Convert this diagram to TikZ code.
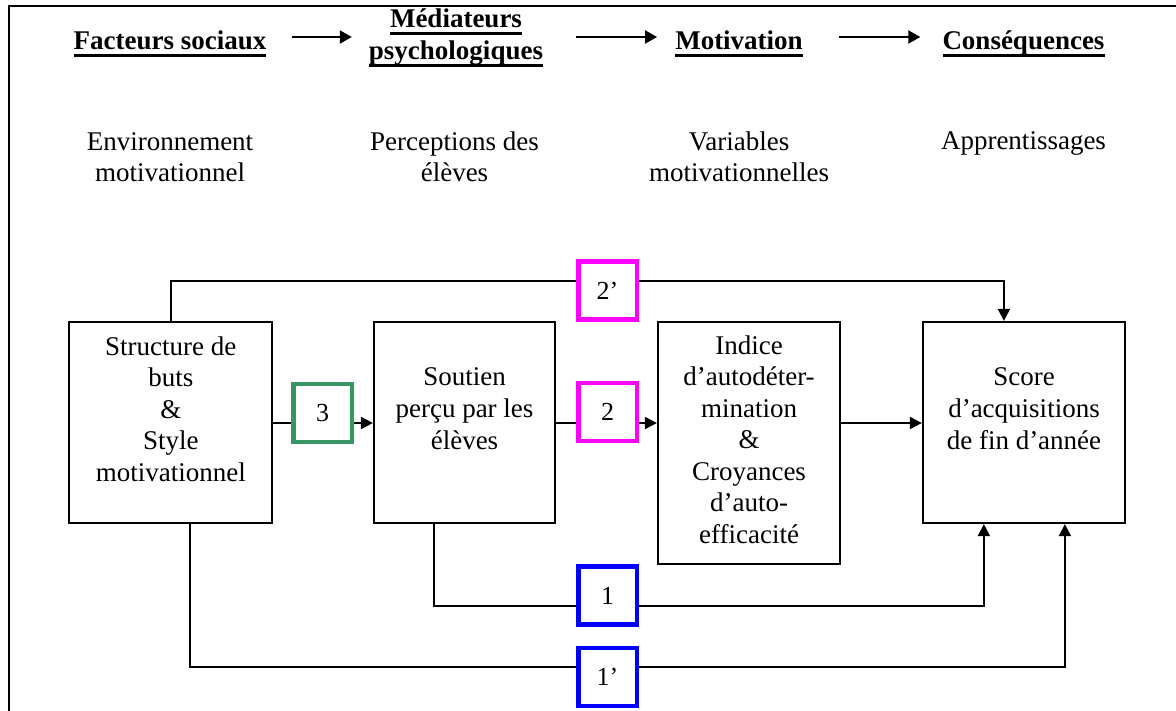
\documentclass[tikz,border=0pt]{standalone}
\usepackage{fontspec}
\setmainfont{Liberation Serif}
\usetikzlibrary{arrows.meta,calc}
\definecolor{grn}{RGB}{56,150,100}
\definecolor{mag}{RGB}{255,0,255}
\definecolor{blu}{RGB}{0,0,255}
\newcommand{\hdul}[1]{\leavevmode\setbox0=\hbox{#1}\rlap{\vrule width\wd0 height -4pt depth 7.5pt}\box0}
\begin{document}
\begin{tikzpicture}[x=1pt,y=-1pt,
  font=\fontsize{27}{31.5}\selectfont,
  box/.style={draw, line width=2.2pt, inner sep=0pt},
  numbox/.style={draw, line width=4.5pt, minimum width=58.5pt, minimum height=58pt, fill=white, inner sep=0pt, font=\fontsize{26}{30}\selectfont},
  txt/.style={align=center, anchor=base, inner sep=0pt},
  hd/.style={txt, font=\fontsize{27}{32}\selectfont\bfseries},
  conn/.style={line width=1.8pt},
  arr/.style={conn, -{Triangle[length=12pt,width=12pt]}},
  harr/.style={line width=2pt, -{Triangle[length=12pt,width=13pt]}},
]
\useasboundingbox (0,0) rectangle (1176,711);
% frame
\draw[line width=2.5pt] (9,711) -- (9,6) -- (1176,6);

% headers (base anchor = baseline of last line)
\node[hd] (H1) at (170,50) {\hdul{Facteurs sociaux}};
\node[hd] (H2) at (456,60) {\hdul{Médiateurs}\\\hdul{psychologiques}};
\node[hd] (H3) at (739,50) {\hdul{Motivation}};
\node[hd] (H4) at (1023.5,50) {\hdul{Conséquences}};
\coordinate (ya) at (0,37);
\draw[harr, shorten <=25pt, shorten >=17pt] (H1.east |- ya) -- (H2.west |- ya);
\draw[harr, shorten <=33pt, shorten >=18pt] (H2.east |- ya) -- (H3.west |- ya);
\draw[harr, shorten <=36pt, shorten >=22pt] (H3.east |- ya) -- (H4.west |- ya);

% subtitles
\node[txt] (S1) at (170,182) {Environnement\\motivationnel};
\node[txt] (S2) at (454.5,182) {Perceptions des\\élèves};
\node[txt] (S3) at (739,182) {Variables\\motivationnelles};
\node[txt] (S4) at (1023.5,150) {Apprentissages};

% main boxes
\node[box, minimum width=203pt, minimum height=201pt] (A) at (170.8,422.5) {};
\node[txt] (At) at (170.8,481) {Structure de\\buts\\\&\\Style\\motivationnel};
\node[box, minimum width=181pt, minimum height=201pt] (B) at (464.5,422.5) {};
\node[txt] (Bt) at (464.5,449) {Soutien\\perçu par les\\élèves};
\node[box, minimum width=182pt, minimum height=242pt] (C) at (749,443) {};
\node[txt] (Ct) at (749,543) {Indice\\d’autodéter-\\mination\\\&\\Croyances\\d’auto-\\efficacité};
\node[box, minimum width=202pt, minimum height=201pt] (D) at (1024,422.5) {};
\node[txt] (Dt) at (1024,449) {Score\\d’acquisitions\\de fin d’année};

% coordinates of connector levels
\coordinate (ym) at (0,423);
\coordinate (y2p) at (0,281);
\coordinate (y1) at (0,606);
\coordinate (y1p) at (0,667);

% connectors (drawn before number boxes)
\draw[conn] (A.north) |- (y2p -| 580,0);
\draw[arr] (y2p -| 630,0) -| ($(D.north west)+(82,0)$);
\draw[conn] ($(B.south west)+(61,0)$) |- (y1 -| 580,0);
\draw[arr] (y1 -| 630,0) -| ($(D.south west)+(62,0)$);
\draw[conn] ($(A.south west)+(122,0)$) |- (y1p -| 580,0);
\draw[arr] (y1p -| 630,0) -| ($(D.south west)+(143,0)$);

% number boxes
\node[numbox, draw=grn] (b3) at (322.5,413) {3};
\node[numbox, draw=mag] (b2) at (607.5,412) {2};
\node[numbox, draw=mag] (b2p) at (607.5,290.5) {2’};
\node[numbox, draw=blu] (b1) at (607.5,595.5) {1};
\node[numbox, draw=blu] (b1p) at (607.5,677) {1’};

\draw[conn] (A.east |- ym) -- (b3.west |- ym);
\draw[arr] (b3.east |- ym) -- (B.west |- ym);
\draw[conn] (B.east |- ym) -- (b2.west |- ym);
\draw[arr] (b2.east |- ym) -- (C.west |- ym);
\draw[arr] (C.east |- ym) -- (D.west |- ym);
\end{tikzpicture}
\end{document}
